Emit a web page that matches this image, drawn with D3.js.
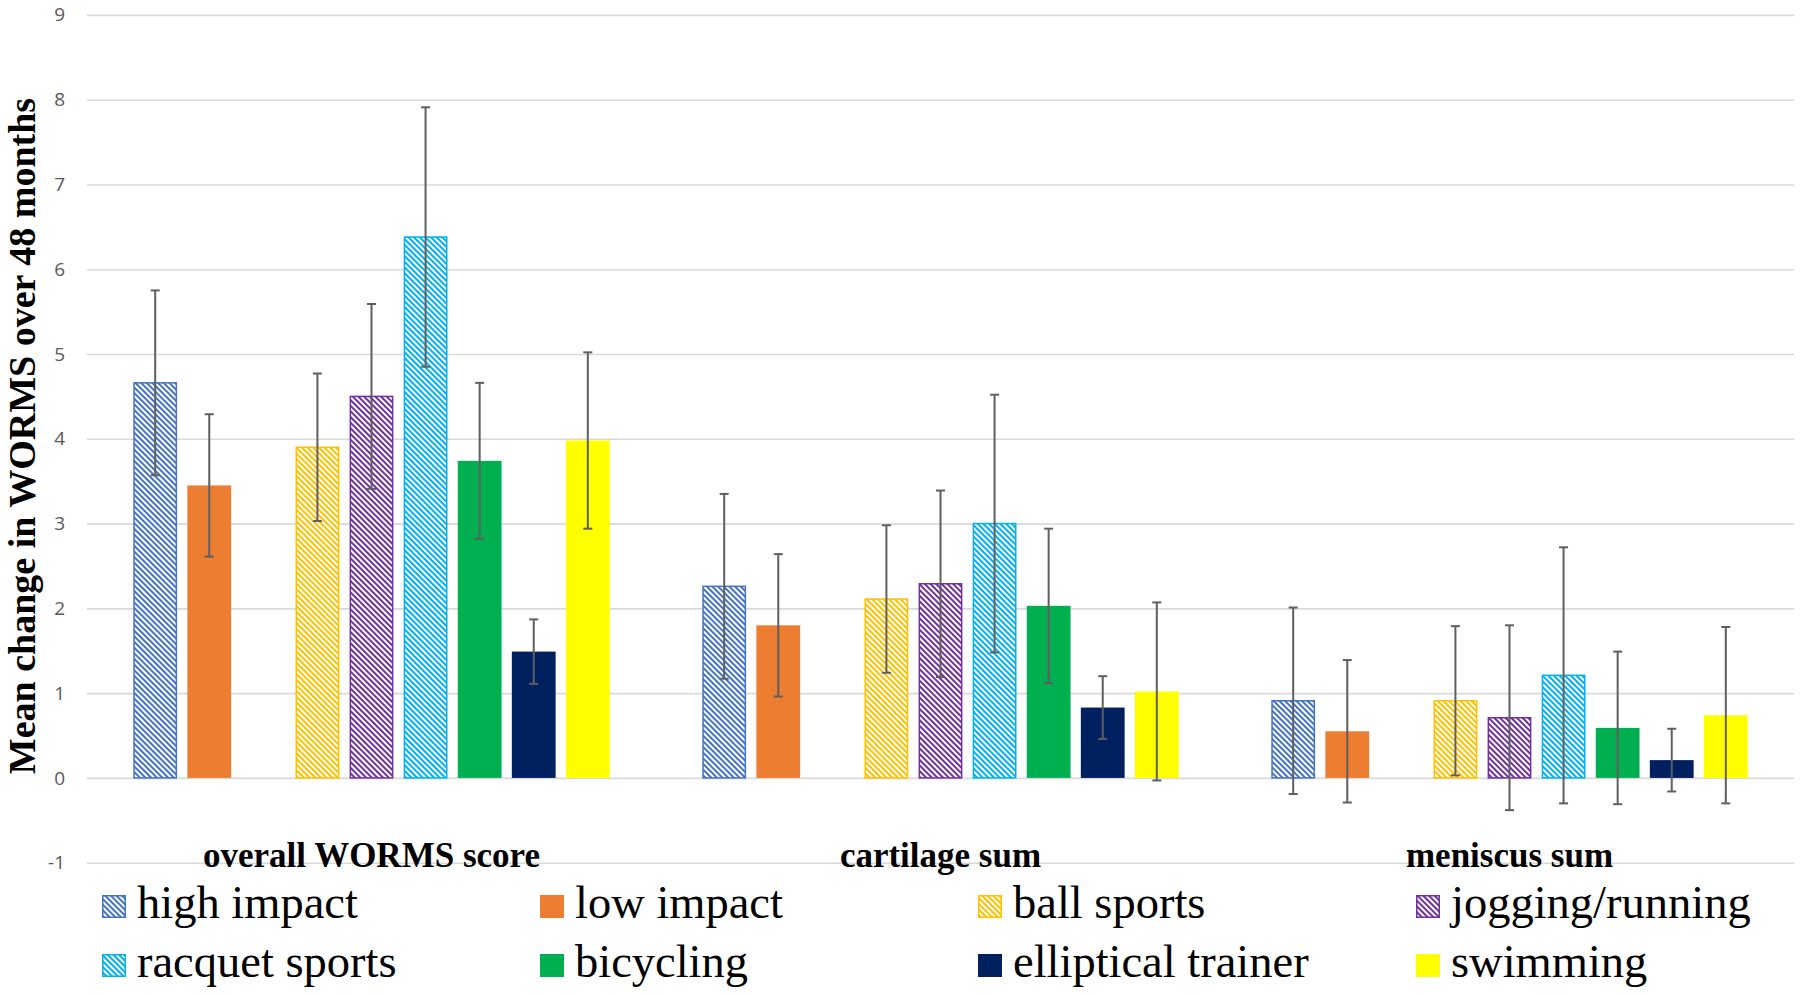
<!DOCTYPE html>
<html>
<head>
<meta charset="utf-8">
<script src="https://cdn.jsdelivr.net/npm/d3@7"></script>
<style>
  html, body { margin: 0; padding: 0; background: #ffffff; }
  svg { display: block; }
</style>
</head>
<body>
<svg id="chart" width="1800" height="995"></svg>
<script>
// ---------- data ----------
const categories = ["overall WORMS score", "cartilage sum", "meniscus sum"];
const seriesNames = ["high impact", "low impact", "ball sports", "jogging/running",
                     "racquet sports", "bicycling", "elliptical trainer", "swimming"];
const seriesColors = ["#4472C4", "#ED7D31", "#FFC000", "#7030A0",
                      "#00B0F0", "#00B050", "#002060", "#FFFF00"];
const seriesHatched = [true, false, true, true, true, false, false, false];

// mean change per category (overall, cartilage, meniscus)
const highImpact   = [4.66, 2.26, 0.91];
const lowImpact    = [3.45, 1.80, 0.55];
const ballSports   = [3.90, 2.11, 0.91];
const jogging      = [4.50, 2.29, 0.71];
const racquet      = [6.38, 3.00, 1.21];
const bicycling    = [3.74, 2.03, 0.59];
const elliptical   = [1.49, 0.83, 0.21];
const swimming     = [3.98, 1.02, 0.74];

// error bar half-widths
const highImpactErr = [1.09, 1.09, 1.10];
const lowImpactErr  = [0.84, 0.84, 0.84];
const ballSportsErr = [0.87, 0.87, 0.88];
const joggingErr    = [1.09, 1.10, 1.09];
const racquetErr    = [1.53, 1.52, 1.51];
const bicyclingErr  = [0.92, 0.91, 0.90];
const ellipticalErr = [0.38, 0.37, 0.37];
const swimmingErr   = [1.04, 1.05, 1.04];

const yTicks = [-1, 0, 1, 2, 3, 4, 5, 6, 7, 8, 9];
const yTitle = "Mean change in WORMS over 48 months";

// ---------- build table ----------
const means = [highImpact, lowImpact, ballSports, jogging, racquet, bicycling, elliptical, swimming];
const errs  = [highImpactErr, lowImpactErr, ballSportsErr, joggingErr, racquetErr, bicyclingErr, ellipticalErr, swimmingErr];

const rows = [];
categories.forEach((c, ci) => {
  seriesNames.forEach((s, si) => {
    rows.push({cat: c, series: s, si: si, value: means[si][ci], err: errs[si][ci]});
  });
});

// slot order (Excel chart had an empty slot after "low impact")
const slotKeys = [seriesNames[0], seriesNames[1], "__gap__", ...seriesNames.slice(2)];

// ---------- scales ----------
const svg = d3.select("#chart");
const plotLeft = 87, plotRight = 1794;

const x0 = d3.scaleBand().domain(categories).range([plotLeft, plotRight]).padding(0);
const x1 = d3.scaleBand().domain(slotKeys).range([0, x0.bandwidth()])
  .paddingInner(0.19).paddingOuter(0.856);
const y = d3.scaleLinear().domain([-1, 9]).range([862.7, 14.9]);

// ---------- patterns ----------
const defs = svg.append("defs");
seriesNames.forEach((s, si) => {
  if (!seriesHatched[si]) return;
  const p = defs.append("pattern")
    .attr("id", "hatch" + si)
    .attr("patternUnits", "userSpaceOnUse")
    .attr("width", 4).attr("height", 4)
    .attr("patternTransform", "rotate(-45)");
  p.append("rect").attr("width", 4).attr("height", 4).attr("fill", "#ffffff");
  p.append("rect").attr("width", 2).attr("height", 4).attr("fill", seriesColors[si]);
});
function fillFor(si) {
  return seriesHatched[si] ? `url(#hatch${si})` : seriesColors[si];
}

// ---------- gridlines ----------
const yAxis = d3.axisLeft(y).tickValues(yTicks).tickSize(-(plotRight - plotLeft)).tickPadding(22)
  .tickFormat(d => String(d));
const gAxis = svg.append("g").attr("transform", `translate(${plotLeft},0)`).call(yAxis);
gAxis.select(".domain").remove();
gAxis.selectAll(".tick line").attr("stroke", "#d9d9d9").attr("stroke-width", 1.6);
gAxis.selectAll(".tick text")
  .attr("fill", "#595959")
  .style("font-family", "'Open Sans', 'Liberation Sans', sans-serif")
  .style("font-size", "19px");

// ---------- bars ----------
const gBars = svg.append("g");
gBars.selectAll("rect.bar").data(rows).join("rect")
  .attr("class", "bar")
  .attr("x", d => x0(d.cat) + x1(d.series) + (seriesHatched[d.si] ? 0.75 : 0))
  .attr("width", d => x1.bandwidth() - (seriesHatched[d.si] ? 1.5 : 0))
  .attr("y", d => y(Math.max(0, d.value)))
  .attr("height", d => Math.abs(y(d.value) - y(0)))
  .attr("fill", d => fillFor(d.si))
  .attr("stroke", d => seriesHatched[d.si] ? seriesColors[d.si] : "none")
  .attr("stroke-width", 1.5);

// ---------- error bars ----------
const capW = 9;
const gErr = svg.append("g").attr("stroke", "#5f5f5f").attr("stroke-width", 2);
rows.forEach(d => {
  const cx = x0(d.cat) + x1(d.series) + x1.bandwidth() / 2;
  const yt = y(d.value + d.err), yb = y(d.value - d.err);
  gErr.append("line").attr("x1", cx).attr("x2", cx).attr("y1", yt).attr("y2", yb);
  gErr.append("line").attr("x1", cx - capW / 2).attr("x2", cx + capW / 2).attr("y1", yt).attr("y2", yt);
  gErr.append("line").attr("x1", cx - capW / 2).attr("x2", cx + capW / 2).attr("y1", yb).attr("y2", yb);
});

// ---------- category labels ----------
svg.append("g").selectAll("text").data(categories).join("text")
  .attr("x", d => x0(d) + x0.bandwidth() / 2)
  .attr("y", 867)
  .attr("text-anchor", "middle")
  .style("font-family", "'Liberation Serif', 'Times New Roman', serif")
  .style("font-weight", "bold")
  .style("font-size", "35px")
  .attr("fill", "#000")
  .text(d => d);

// ---------- y title ----------
svg.append("text")
  .attr("transform", "translate(35,436) rotate(-90)")
  .attr("text-anchor", "middle")
  .style("font-family", "'Liberation Serif', 'Times New Roman', serif")
  .style("font-weight", "bold")
  .style("font-size", "38px")
  .attr("fill", "#000")
  .text(yTitle);

// ---------- legend ----------
const legX0 = 102, legStep = 438, rowY = [918, 977];
const gLeg = svg.append("g");
seriesNames.forEach((s, si) => {
  const col = si % 4, row = Math.floor(si / 4);
  const lx = legX0 + col * legStep, ly = rowY[row];
  gLeg.append("rect")
    .attr("x", lx + (seriesHatched[si] ? 0.75 : 0)).attr("y", ly - 23 + (seriesHatched[si] ? 0.75 : 0))
    .attr("width", 24 - (seriesHatched[si] ? 1.5 : 0)).attr("height", 23 - (seriesHatched[si] ? 1.5 : 0))
    .attr("fill", fillFor(si))
    .attr("stroke", seriesHatched[si] ? seriesColors[si] : "none")
    .attr("stroke-width", 1.5);
  gLeg.append("text")
    .attr("x", lx + 35).attr("y", ly)
    .style("font-family", "'Liberation Serif', 'Times New Roman', serif")
    .style("font-size", "46.5px")
    .attr("fill", "#000")
    .text(s);
});
</script>
</body>
</html>
